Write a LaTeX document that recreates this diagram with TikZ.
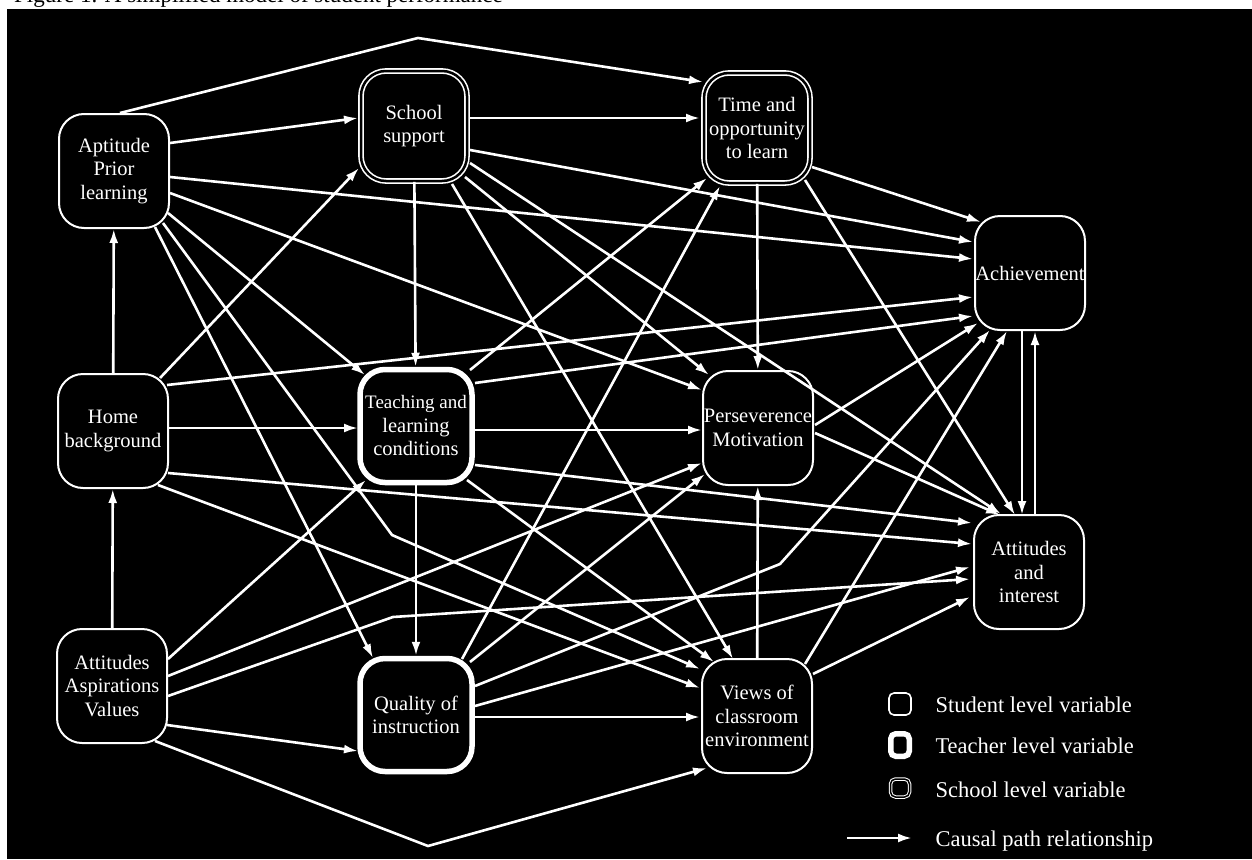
\documentclass[tikz,border=0pt]{standalone}
\usepackage{fontspec}
\setmainfont{Liberation Serif}
\usetikzlibrary{arrows.meta,calc}

\begin{document}
\begin{tikzpicture}[x=1pt,y=-1pt,
   var/.style={rectangle,rounded corners=25pt,draw=white,fill=black,text=white,
    align=center,inner sep=0pt,minimum width=110pt,minimum height=114pt,
    font=\fontsize{20.5}{23.5}\selectfont},
   student/.style={var,line width=2pt},
   teacher/.style={var,line width=5.5pt,minimum width=112pt,minimum height=113pt},
   school/.style={var,line width=1.6pt,double=black,double distance=2.5pt,
    minimum width=106pt,minimum height=110pt},
   path/.style={draw=white,line width=2.6pt,-{Latex[length=14pt,width=9pt]}},
   key/.style={text=white,anchor=base west,font=\fontsize{22.5}{24}\selectfont}
    ]
  \useasboundingbox (0,0) rectangle (1252,859);
  \fill[black] (7,9) rectangle (1252,859);
  \node[anchor=base west,inner sep=0pt,font=\fontsize{23}{25}\selectfont] (caption) at (14,3)
    {Figure 1. A simplified model of student performance};

  % -- left column
  \node[student] (apt) at (114,171) {Aptitude\\Prior\\learning};
  \node[student] (home) at (113,431) {Home\\background};
  \node[student] (asp) at (112,686) {Attitudes\\Aspirations\\Values};
  % -- second column
  \node[school] (ssup) at (414,126) {School\\support};
  \node[teacher] (teach) at (416,426) {\fontsize{19}{20}\selectfont Teaching and\\learning\\conditions};
  \node[teacher] (qual) at (416,715) {Quality of\\instruction};
  % -- third column
  \node[school] (time) at (757,128) {Time and\\opportunity\\to learn};
  \node[student] (pers) at (758,428) {Perseverence\\Motivation};
  \node[student] (views) at (757,716) {Views of\\classroom\\environment};
  % -- outcomes
  \node[student] (ach) at (1030,273) {Achievement};
  \node[student] (att) at (1029,572) {Attitudes\\and\\interest};

  \coordinate (peak) at (418,38);
  \coordinate (valley) at (428,846);

  % -- from aptitude
  \draw[path] ($(apt)+(56,-28)$) -- ($(ssup)+(-56,-8)$);
  \draw[path] ($(apt)+(6,-58)$) -- (peak) -- ($(time)+(-54,-46)$);
  \draw[path] ($(apt)+(56,6)$) -- ($(ach)+(-57,-14)$);
  \draw[path] ($(apt)+(56,22)$) -- ($(pers)+(-56,-38)$);
  \draw[path] ($(apt)+(54,42)$) -- ($(teach)+(-51,-51)$);
  \draw[path] ($(apt)+(41,56)$) -- ($(qual)+(-43,-57)$);
  \draw[path] ($(apt)+(49,52)$) -- (392,535) -- ($(views)+(-57,-47)$);
  % -- from home
  \draw[path] (home) -- (apt);
  \draw[path] ($(home)+(47,-53)$) -- ($(ssup)+(-55,42)$);
  \draw[path] ($(home)+(54,-46)$) -- ($(ach)+(-57,24)$);
  \draw[path] ($(home)+(55,-3)$) -- ($(teach)+(-58,2)$);
  \draw[path] ($(home)+(55,42)$) -- ($(att)+(-57,-28)$);
  \draw[path] ($(home)+(45,54)$) -- ($(views)+(-57,-28)$);
  % -- from aspirations
  \draw[path] (asp) -- (home);
  \draw[path] ($(asp)+(56,-27)$) -- ($(teach)+(-50,54)$);
  \draw[path] ($(asp)+(56,-10)$) -- ($(pers)+(-56,35)$);
  \draw[path] ($(asp)+(56,10)$) -- (393,617) -- ($(att)+(-59,7)$);
  \draw[path] ($(asp)+(55,39)$) -- ($(qual)+(-58,36)$);
  \draw[path] ($(asp)+(43,55)$) -- (valley) -- ($(views)+(-50,52)$);
  % -- from school support
  \draw[path] ($(ssup)+(56,-8)$) -- ($(time)+(-57,-10)$);
  \draw[path] ($(ssup)+(56,24)$) -- ($(ach)+(-57,-31)$);
  \draw[path] ($(ssup)+(56,37)$) -- ($(att)+(-28,-58)$);
  \draw[path] ($(ssup)+(51,51)$) -- ($(pers)+(-49,-53)$);
  \draw[path] ($(ssup)+(38,58)$) -- ($(views)+(-24,-57)$);
  \draw[path] (ssup) -- (teach);
  % -- from time
  \draw[path] ($(time)+(55,39)$) -- ($(ach)+(-49,-51)$);
  \draw[path] (time) -- (pers);
  \draw[path] ($(time)+(48,52)$) -- ($(att)+(-14,-57)$);
  % -- from teaching
  \draw[path] ($(teach)+(54,-56)$) -- ($(time)+(-50,50)$);
  \draw[path] ($(teach)+(59,-43)$) -- ($(ach)+(-57,43)$);
  \draw[path] ($(teach)+(59,4)$) -- ($(pers)+(-56,2)$);
  \draw[path] ($(teach)+(59,39)$) -- ($(att)+(-57,-49)$);
  \draw[path] ($(teach)+(51,54)$) -- ($(views)+(-43,-54)$);
  \draw[path] (teach) -- (qual);
  % -- from quality
  \draw[path] ($(qual)+(46,-56)$) -- ($(time)+(-37,58)$);
  \draw[path] ($(qual)+(54,-53)$) -- ($(pers)+(-53,46)$);
  \draw[path] ($(qual)+(59,-29)$) -- (780,564) -- ($(ach)+(-40,57)$);
  \draw[path] ($(qual)+(59,-9)$) -- ($(att)+(-59,-5)$);
  \draw[path] ($(qual)+(59,2)$) -- ($(views)+(-57,1)$);
  % -- from perseverence and views
  \draw[path] ($(pers)+(57,-3)$) -- ($(ach)+(-52,50)$);
  \draw[path] ($(pers)+(57,5)$) -- ($(att)+(-29,-57)$);
  \draw[path] (views) -- (pers);
  \draw[path] ($(views)+(48,-52)$) -- ($(ach)+(-23,58)$);
  \draw[path] ($(views)+(56,-42)$) -- ($(att)+(-59,25)$);
  % -- outcomes
  \draw[path] ($(ach)+(-8,58)$) -- ($(att)+(-7,-57)$);
  \draw[path] ($(att)+(6,-57)$) -- ($(ach)+(5,58)$);

  % -- key
  \node[var,line width=1.6pt,minimum size=22pt,rounded corners=5pt] (kstud) at (900,704) {};
  \node[var,line width=5.5pt,minimum width=18.5pt,minimum height=22.5pt,rounded corners=5pt] (kteach) at (900,745) {};
  \node[var,line width=1pt,double=black,double distance=1.5pt,minimum width=19pt,minimum height=18pt,rounded corners=5pt] (kschool) at (900,788) {};
  \node[key] at (932,712) {Student level variable};
  \node[key] at (932,753) {Teacher level variable};
  \node[key] at (932,797) {School level variable};
  \coordinate (ka) at (847,838);
  \coordinate (kb) at (912,838);
  \draw[path] (ka) -- (kb);
  \node[key] at (932,846) {Causal path relationship};
\end{tikzpicture}
\end{document}
